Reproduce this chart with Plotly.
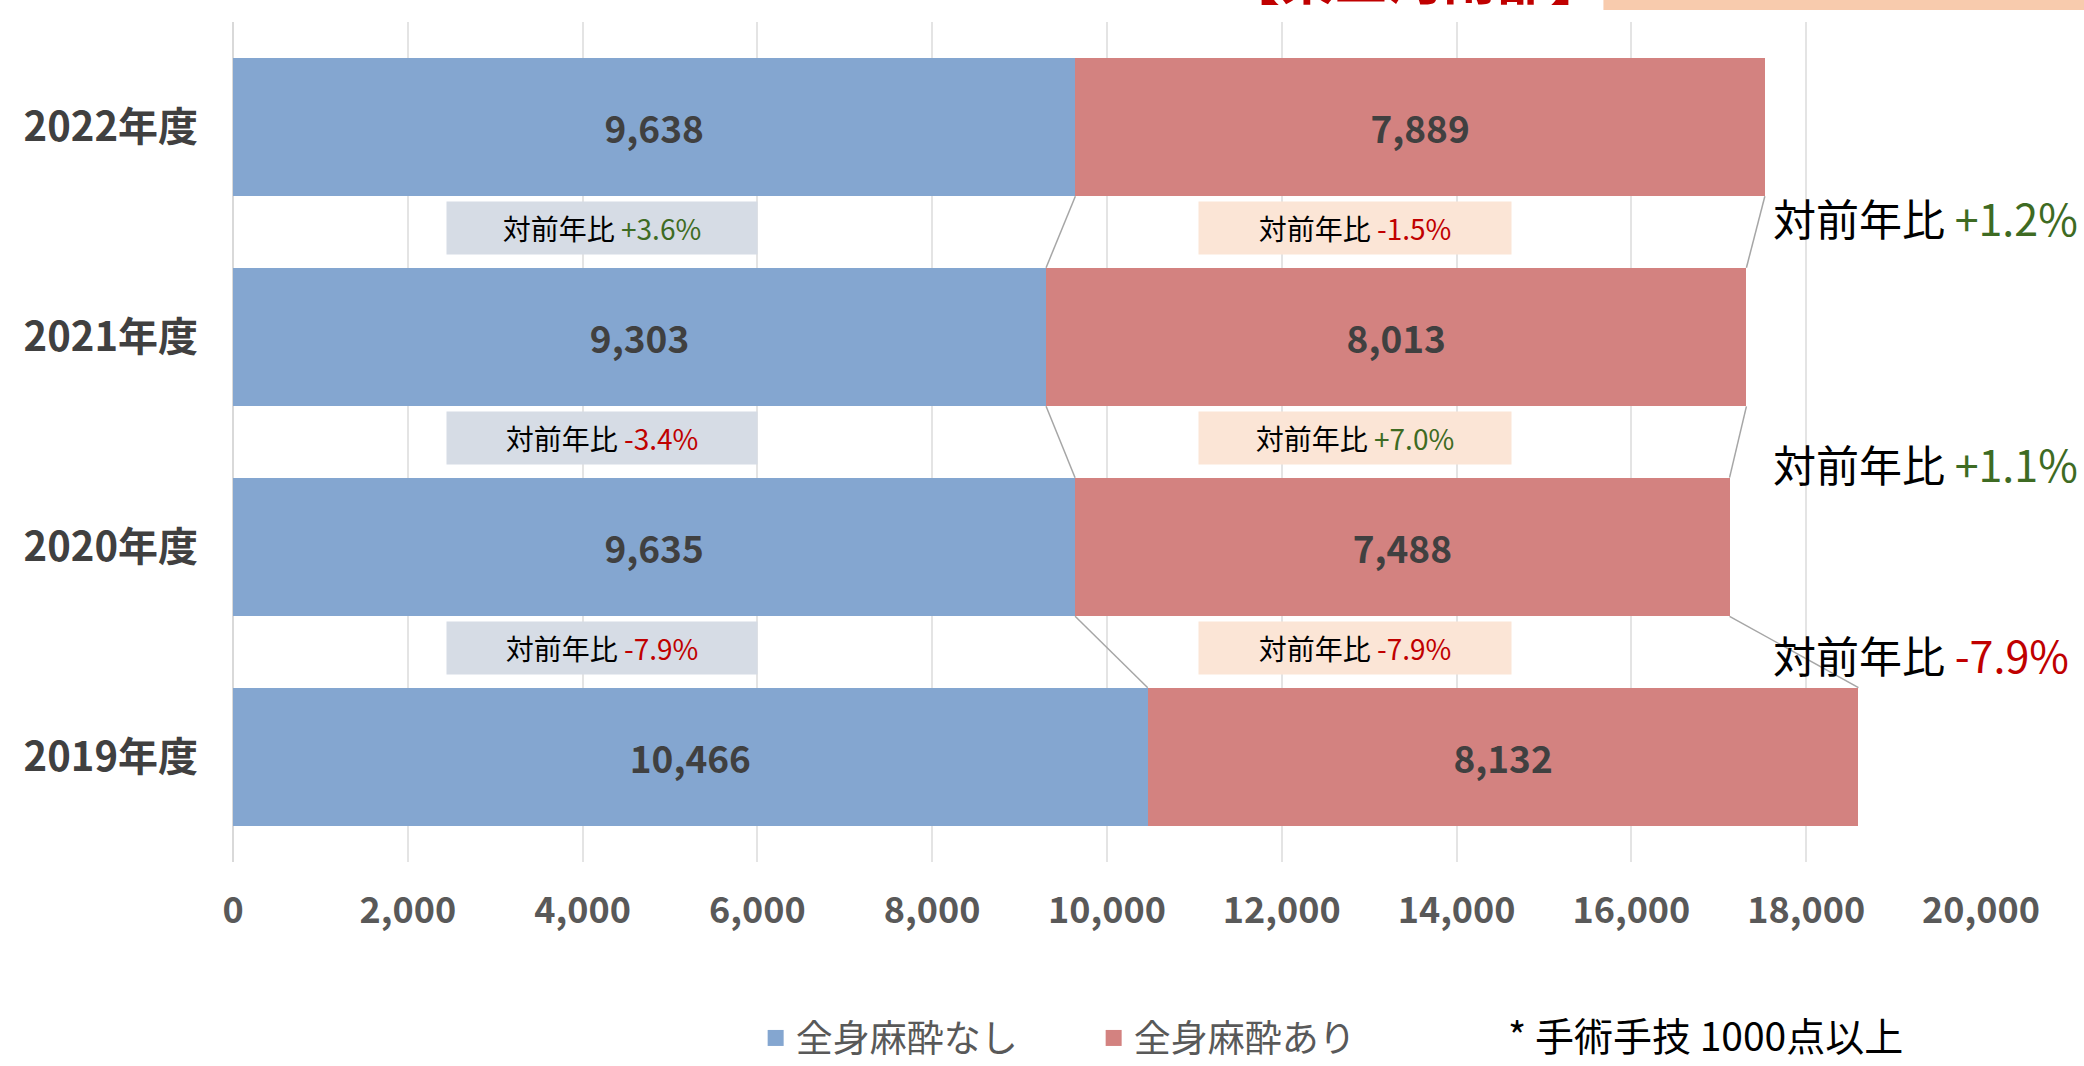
import plotly.graph_objects as go

# ---- data ----
years = ["2019年度", "2020年度", "2021年度", "2022年度"]
no_general = [10466, 9635, 9303, 9638]      # 全身麻酔なし
with_general = [8132, 7488, 8013, 7889]     # 全身麻酔あり
x_ticks = [0, 2000, 4000, 6000, 8000, 10000, 12000, 14000, 16000, 18000, 20000]

series_names = ["全身麻酔なし", "全身麻酔あり"]
note_text = "* 手術手技 1000点以上"
title_text = "【東三河南部】"

BLUE = "#84A6D0"
RED = "#D38280"
GREEN = "#3E6B23"
DARKRED = "#C00000"
FONT = "Noto Sans CJK JP"

totals = [a + b for a, b in zip(no_general, with_general)]


def yoy(cur, prev):
    return (cur / prev - 1) * 100


def pct_html(p):
    color = GREEN if p >= 0 else DARKRED
    sign = "+" if p >= 0 else "-"
    return f"<span style='color:{color}'>{sign}{abs(p):.1f}%</span>"


fig = go.Figure()
for vals, name, color in ((no_general, series_names[0], BLUE),
                          (with_general, series_names[1], RED)):
    fig.add_trace(go.Bar(
        y=years, x=vals, orientation="h", name=name, showlegend=False,
        marker=dict(color=color, line=dict(width=0)),
        text=[f"{v:,}" for v in vals], textposition="inside",
        insidetextanchor="middle", textangle=0, constraintext="none",
        textfont=dict(family=FONT, size=37, color="#404040", weight="bold"),
    ))
# legend entries (larger square swatches)
for name, color in ((series_names[0], BLUE), (series_names[1], RED)):
    fig.add_trace(go.Scatter(
        x=[None], y=[None], mode="markers", name=name, showlegend=True,
        marker=dict(symbol="square", size=16, color=color)))

half = 0.33
shapes = []
annotations = []
for i in range(1, len(years)):
    for up, lo in ((no_general[i], no_general[i - 1]), (totals[i], totals[i - 1])):
        shapes.append(dict(type="line", xref="x", yref="y",
                           x0=up, y0=i - half, x1=lo, y1=i - 1 + half,
                           line=dict(color="#A6A6A6", width=1.5), layer="above"))
    mid = i - 0.5 + 0.02
    p1 = yoy(no_general[i], no_general[i - 1])
    p2 = yoy(with_general[i], with_general[i - 1])
    annotations.append(dict(
        x=4220, y=mid, xref="x", yref="y", showarrow=False,
        text="対前年比 " + pct_html(p1), width=308, height=50,
        bgcolor="#D6DCE5", font=dict(family=FONT, size=28, color="#000000")))
    annotations.append(dict(
        x=12840, y=mid, xref="x", yref="y", showarrow=False,
        text="対前年比 " + pct_html(p2), width=310, height=50,
        bgcolor="#FBE5D6", font=dict(family=FONT, size=28, color="#000000")))

big_y = [0.49, 1.40, 2.57]
for i in range(1, len(years)):
    pt = yoy(totals[i], totals[i - 1])
    annotations.append(dict(
        x=17600, y=big_y[i - 1], xref="x", yref="y", xanchor="left",
        showarrow=False, text="対前年比 " + pct_html(pt),
        font=dict(family=FONT, size=43, color="#000000")))

annotations.append(dict(
    x=0.729, y=-0.205, xref="paper", yref="paper", xanchor="left", yanchor="middle",
    showarrow=False, text=note_text, borderpad=0,
    font=dict(family=FONT, size=39, color="#000000")))
annotations.append(dict(
    x=0.676, y=1.005, xref="paper", yref="paper", xanchor="center", yanchor="bottom",
    showarrow=False, text=title_text,
    font=dict(family=FONT, size=54, color=DARKRED, weight="bold")))

shapes.append(dict(type="rect", xref="paper", yref="paper",
                   x0=0.784, x1=1.06, y0=1.0143, y1=1.06,
                   fillcolor="#F8CBAD", line=dict(width=0), layer="above"))

fig.update_layout(
    width=2084, height=1066,
    margin=dict(l=233, r=103, t=22, b=204, autoexpand=False),
    barmode="stack", bargap=0.34,
    plot_bgcolor="white", paper_bgcolor="white",
    shapes=shapes, annotations=annotations,
    legend=dict(orientation="h", x=0.299, y=-0.21, xanchor="left", yanchor="middle",
                font=dict(family=FONT, size=37, color="#595959"),
                itemsizing="trace",
                entrywidth=293, entrywidthmode="pixels", traceorder="normal"),
    xaxis=dict(range=[0, 20000], tickvals=x_ticks, tickformat=",",
               showgrid=True, gridcolor="#E4E4E4", gridwidth=1.5,
               zeroline=True, zerolinecolor="#D9D9D9", zerolinewidth=1.5,
               showline=False, ticklabelstandoff=24,
               tickfont=dict(family=FONT, size=36, color="#595959", weight="bold")),
    yaxis=dict(type="category", categoryorder="array", categoryarray=years,
               range=[-0.5, 3.5],
               showgrid=False, showline=False, ticklabelstandoff=34,
               tickfont=dict(family=FONT, size=40, color="#404040", weight="bold")),
    showlegend=True,
)

fig.write_html("out.html", config={"displayModeBar": False},
               post_script="document.body.style.margin='0';document.body.style.overflow='hidden';")
